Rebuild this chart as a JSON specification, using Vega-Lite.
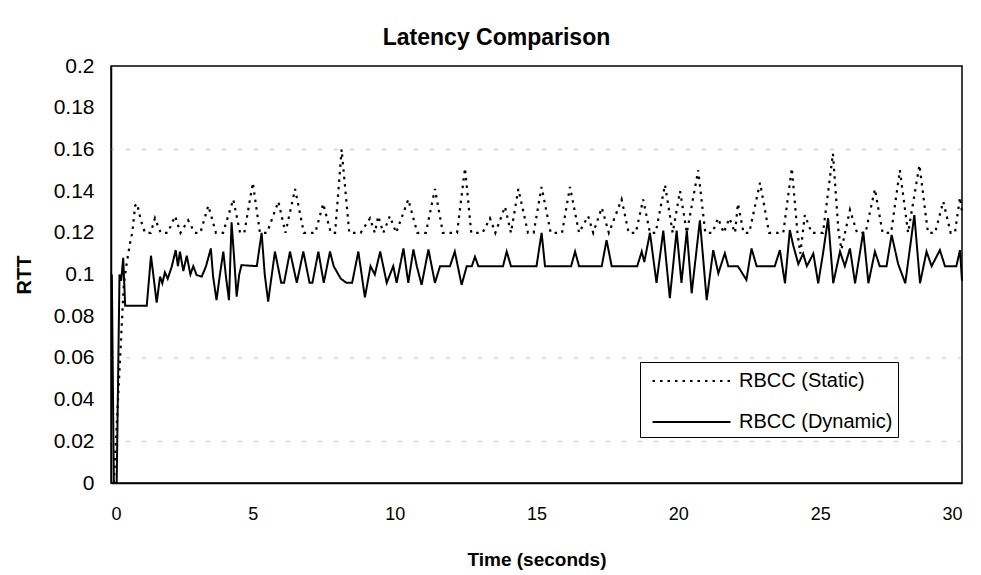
{
  "$schema": "https://vega.github.io/schema/vega-lite/v6.json",
  "width": 851,
  "height": 417,
  "autosize": {"type": "none"},
  "padding": {"left": 111, "top": 66, "right": 19, "bottom": 92},
  "background": "white",
  "title": {"text": "Latency Comparison", "font": "Liberation Sans", "fontSize": 23, "fontWeight": "bold", "color": "#000", "anchor": "middle", "dx": -40, "offset": 5},
  "config": {
    "view": {"stroke": "#000", "strokeWidth": 1.5},
    "axis": {"labelFont": "Liberation Sans", "labelColor": "#000", "titleFont": "Liberation Sans", "titleColor": "#000", "domainColor": "#000", "domainWidth": 1.5, "grid": false, "ticks": false}
  },
  "datasets": {
    "grid": [{"g": 0.16}, {"g": 0.06}, {"g": 0.02}],
    "static": [
      {"t": 0.1, "v": 0}, {"t": 0.45, "v": 0.095}, {"t": 0.55, "v": 0.105}, {"t": 0.67, "v": 0.115}, {"t": 0.75, "v": 0.12}, {"t": 0.85, "v": 0.133}, {"t": 0.92, "v": 0.134}, {"t": 1.05, "v": 0.126}, {"t": 1.2, "v": 0.12},
      {"t": 1.4, "v": 0.12}, {"t": 1.55, "v": 0.127}, {"t": 1.75, "v": 0.12}, {"t": 2.0, "v": 0.12}, {"t": 2.26, "v": 0.128}, {"t": 2.45, "v": 0.12}, {"t": 2.72, "v": 0.126}, {"t": 2.95, "v": 0.12},
      {"t": 3.15, "v": 0.12}, {"t": 3.43, "v": 0.133}, {"t": 3.7, "v": 0.12}, {"t": 3.95, "v": 0.12}, {"t": 4.31, "v": 0.136}, {"t": 4.55, "v": 0.12}, {"t": 4.7, "v": 0.12}, {"t": 5.0, "v": 0.144},
      {"t": 5.25, "v": 0.12}, {"t": 5.5, "v": 0.12}, {"t": 5.9, "v": 0.135}, {"t": 6.15, "v": 0.12}, {"t": 6.49, "v": 0.141}, {"t": 6.8, "v": 0.12}, {"t": 7.2, "v": 0.12}, {"t": 7.48, "v": 0.134},
      {"t": 7.75, "v": 0.12}, {"t": 7.9, "v": 0.12}, {"t": 8.13, "v": 0.16}, {"t": 8.4, "v": 0.12}, {"t": 8.8, "v": 0.12}, {"t": 9.13, "v": 0.127}, {"t": 9.3, "v": 0.12}, {"t": 9.42, "v": 0.128},
      {"t": 9.6, "v": 0.12}, {"t": 9.83, "v": 0.128}, {"t": 10.05, "v": 0.12}, {"t": 10.48, "v": 0.136}, {"t": 10.8, "v": 0.12}, {"t": 11.1, "v": 0.12}, {"t": 11.42, "v": 0.141}, {"t": 11.7, "v": 0.12},
      {"t": 12.2, "v": 0.12}, {"t": 12.48, "v": 0.151}, {"t": 12.7, "v": 0.12}, {"t": 13.1, "v": 0.12}, {"t": 13.36, "v": 0.127}, {"t": 13.55, "v": 0.12}, {"t": 13.89, "v": 0.1325}, {"t": 14.1, "v": 0.12},
      {"t": 14.36, "v": 0.141}, {"t": 14.7, "v": 0.12}, {"t": 14.9, "v": 0.12}, {"t": 15.18, "v": 0.142}, {"t": 15.5, "v": 0.12}, {"t": 15.9, "v": 0.12}, {"t": 16.18, "v": 0.142}, {"t": 16.5, "v": 0.12},
      {"t": 16.82, "v": 0.128}, {"t": 17.0, "v": 0.12}, {"t": 17.3, "v": 0.132}, {"t": 17.55, "v": 0.12}, {"t": 18.0, "v": 0.136}, {"t": 18.25, "v": 0.12}, {"t": 18.5, "v": 0.12}, {"t": 18.76, "v": 0.136},
      {"t": 19.0, "v": 0.12}, {"t": 19.2, "v": 0.12}, {"t": 19.53, "v": 0.143}, {"t": 19.8, "v": 0.12}, {"t": 20.06, "v": 0.14}, {"t": 20.3, "v": 0.12}, {"t": 20.7, "v": 0.15}, {"t": 20.95, "v": 0.12},
      {"t": 21.2, "v": 0.12}, {"t": 21.4, "v": 0.127}, {"t": 21.6, "v": 0.12}, {"t": 21.8, "v": 0.127}, {"t": 22.0, "v": 0.12}, {"t": 22.1, "v": 0.134}, {"t": 22.3, "v": 0.12}, {"t": 22.5, "v": 0.12},
      {"t": 22.88, "v": 0.144}, {"t": 23.2, "v": 0.12}, {"t": 23.7, "v": 0.12}, {"t": 24.0, "v": 0.151}, {"t": 24.2, "v": 0.12}, {"t": 24.3, "v": 0.11}, {"t": 24.46, "v": 0.1285}, {"t": 24.7, "v": 0.12},
      {"t": 25.1, "v": 0.12}, {"t": 25.45, "v": 0.158}, {"t": 25.65, "v": 0.12}, {"t": 25.75, "v": 0.112}, {"t": 26.05, "v": 0.131}, {"t": 26.3, "v": 0.12}, {"t": 26.6, "v": 0.12}, {"t": 26.93, "v": 0.141},
      {"t": 27.2, "v": 0.12}, {"t": 27.5, "v": 0.12}, {"t": 27.81, "v": 0.15}, {"t": 28.1, "v": 0.12}, {"t": 28.5, "v": 0.1525}, {"t": 28.8, "v": 0.12}, {"t": 29.05, "v": 0.12}, {"t": 29.34, "v": 0.135},
      {"t": 29.6, "v": 0.12}, {"t": 29.75, "v": 0.12}, {"t": 29.93, "v": 0.137}, {"t": 30.0, "v": 0.13}
    ],
    "dynamic": [
      {"t": 0.03, "v": 0.1}, {"t": 0.1, "v": 0}, {"t": 0.2, "v": 0}, {"t": 0.3, "v": 0.1}, {"t": 0.36, "v": 0.097}, {"t": 0.43, "v": 0.108}, {"t": 0.5, "v": 0.085}, {"t": 1.26, "v": 0.085},
      {"t": 1.41, "v": 0.109}, {"t": 1.61, "v": 0.0865}, {"t": 1.73, "v": 0.099}, {"t": 1.81, "v": 0.0958}, {"t": 1.9, "v": 0.101}, {"t": 2.0, "v": 0.098}, {"t": 2.14, "v": 0.1037}, {"t": 2.28, "v": 0.1117},
      {"t": 2.36, "v": 0.104}, {"t": 2.43, "v": 0.111}, {"t": 2.55, "v": 0.1017}, {"t": 2.67, "v": 0.109}, {"t": 2.8, "v": 0.1}, {"t": 2.9, "v": 0.104}, {"t": 3.02, "v": 0.0997}, {"t": 3.2, "v": 0.099},
      {"t": 3.35, "v": 0.104}, {"t": 3.52, "v": 0.1125}, {"t": 3.6, "v": 0.0989}, {"t": 3.72, "v": 0.0877}, {"t": 3.84, "v": 0.1}, {"t": 3.96, "v": 0.111}, {"t": 4.06, "v": 0.098}, {"t": 4.16, "v": 0.0877},
      {"t": 4.25, "v": 0.125}, {"t": 4.33, "v": 0.11}, {"t": 4.43, "v": 0.0894}, {"t": 4.52, "v": 0.1}, {"t": 4.6, "v": 0.1045}, {"t": 5.14, "v": 0.104}, {"t": 5.31, "v": 0.12}, {"t": 5.42, "v": 0.1},
      {"t": 5.54, "v": 0.087}, {"t": 5.78, "v": 0.111}, {"t": 6.0, "v": 0.096}, {"t": 6.1, "v": 0.096}, {"t": 6.31, "v": 0.111}, {"t": 6.55, "v": 0.096}, {"t": 6.78, "v": 0.111}, {"t": 7.0, "v": 0.096},
      {"t": 7.1, "v": 0.096}, {"t": 7.31, "v": 0.111}, {"t": 7.5, "v": 0.096}, {"t": 7.72, "v": 0.111}, {"t": 7.85, "v": 0.104}, {"t": 8.1, "v": 0.098}, {"t": 8.3, "v": 0.096}, {"t": 8.5, "v": 0.096},
      {"t": 8.72, "v": 0.111}, {"t": 8.95, "v": 0.089}, {"t": 9.15, "v": 0.104}, {"t": 9.3, "v": 0.1}, {"t": 9.49, "v": 0.111}, {"t": 9.72, "v": 0.096}, {"t": 9.95, "v": 0.104}, {"t": 10.07, "v": 0.096},
      {"t": 10.31, "v": 0.1125}, {"t": 10.48, "v": 0.096}, {"t": 10.66, "v": 0.112}, {"t": 10.78, "v": 0.104}, {"t": 10.95, "v": 0.095}, {"t": 11.19, "v": 0.112}, {"t": 11.42, "v": 0.096}, {"t": 11.6, "v": 0.104},
      {"t": 11.95, "v": 0.104}, {"t": 12.12, "v": 0.111}, {"t": 12.36, "v": 0.095}, {"t": 12.54, "v": 0.104}, {"t": 12.72, "v": 0.104}, {"t": 12.83, "v": 0.1085}, {"t": 12.95, "v": 0.104}, {"t": 13.82, "v": 0.104},
      {"t": 13.95, "v": 0.111}, {"t": 14.1, "v": 0.104}, {"t": 15.0, "v": 0.104}, {"t": 15.18, "v": 0.12}, {"t": 15.3, "v": 0.104}, {"t": 16.22, "v": 0.104}, {"t": 16.36, "v": 0.111}, {"t": 16.5, "v": 0.104},
      {"t": 17.3, "v": 0.104}, {"t": 17.47, "v": 0.1165}, {"t": 17.65, "v": 0.104}, {"t": 18.55, "v": 0.104}, {"t": 18.71, "v": 0.111}, {"t": 18.8, "v": 0.106}, {"t": 19.0, "v": 0.12}, {"t": 19.23, "v": 0.096},
      {"t": 19.47, "v": 0.121}, {"t": 19.7, "v": 0.0886}, {"t": 19.94, "v": 0.121}, {"t": 20.11, "v": 0.096}, {"t": 20.3, "v": 0.121}, {"t": 20.47, "v": 0.091}, {"t": 20.76, "v": 0.126}, {"t": 21.0, "v": 0.0877},
      {"t": 21.23, "v": 0.1117}, {"t": 21.41, "v": 0.1006}, {"t": 21.64, "v": 0.1102}, {"t": 21.76, "v": 0.104}, {"t": 22.1, "v": 0.104}, {"t": 22.4, "v": 0.0974}, {"t": 22.58, "v": 0.1125}, {"t": 22.76, "v": 0.104},
      {"t": 23.4, "v": 0.104}, {"t": 23.58, "v": 0.1117}, {"t": 23.76, "v": 0.0958}, {"t": 23.93, "v": 0.1213}, {"t": 24.05, "v": 0.114}, {"t": 24.23, "v": 0.105}, {"t": 24.4, "v": 0.11}, {"t": 24.53, "v": 0.104},
      {"t": 24.76, "v": 0.11}, {"t": 24.93, "v": 0.0958}, {"t": 25.1, "v": 0.11}, {"t": 25.28, "v": 0.127}, {"t": 25.46, "v": 0.0958}, {"t": 25.7, "v": 0.111}, {"t": 25.87, "v": 0.104}, {"t": 26.05, "v": 0.1125},
      {"t": 26.23, "v": 0.0958}, {"t": 26.52, "v": 0.1205}, {"t": 26.7, "v": 0.0958}, {"t": 26.93, "v": 0.111}, {"t": 27.1, "v": 0.104}, {"t": 27.34, "v": 0.104}, {"t": 27.52, "v": 0.119}, {"t": 27.75, "v": 0.105},
      {"t": 28.0, "v": 0.0958}, {"t": 28.32, "v": 0.1285}, {"t": 28.52, "v": 0.0958}, {"t": 28.75, "v": 0.111}, {"t": 28.93, "v": 0.104}, {"t": 29.22, "v": 0.1117}, {"t": 29.4, "v": 0.104}, {"t": 29.8, "v": 0.104},
      {"t": 29.93, "v": 0.1117}, {"t": 30.0, "v": 0.097}
    ]
  },
  "layer": [
    {
      "data": {"name": "grid"},
      "mark": {"type": "rule", "color": "#888", "strokeDash": [4, 12], "strokeWidth": 1, "opacity": 0.5},
      "encoding": {
        "y": {"field": "g", "type": "quantitative", "scale": {"domain": [0, 0.2]}}
      }
    },
    {
      "data": {"name": "static"},
      "mark": {"type": "line", "color": "#000", "strokeWidth": 2.2},
      "encoding": {
        "x": {"field": "t", "type": "quantitative", "scale": {"domain": [0, 30], "nice": false}, "axis": {"title": "Time (seconds)", "values": [0, 5, 10, 15, 20, 25, 30], "labelFontSize": 18, "labelPadding": 22, "titleFontSize": 19, "titleFontWeight": "bold", "titlePadding": 27}},
        "y": {"field": "v", "type": "quantitative", "scale": {"domain": [0, 0.2], "nice": false}, "axis": {"title": "RTT", "values": [0, 0.02, 0.04, 0.06, 0.08, 0.1, 0.12, 0.14, 0.16, 0.18, 0.2], "format": ".2~f", "labelFontSize": 21, "labelPadding": 17, "titleFontSize": 20, "titleFontWeight": "bold", "titlePadding": 19}},
        "strokeDash": {
          "datum": "RBCC (Static)",
          "scale": {"domain": ["RBCC (Static)", "RBCC (Dynamic)"], "range": [[2.5, 5], [1, 0]]},
          "legend": {"title": null, "orient": "none", "legendX": 529, "legendY": 296, "strokeColor": "#000", "fillColor": "#fff", "padding": 5, "symbolType": "M-0.5,0H5.5", "symbolSize": 676, "symbolStrokeWidth": 2, "symbolStrokeColor": "#000", "labelFont": "Liberation Sans", "labelFontSize": 20, "labelColor": "#000", "labelOffset": 66, "rowPadding": 17}
        }
      }
    },
    {
      "data": {"name": "dynamic"},
      "mark": {"type": "line", "color": "#000", "strokeWidth": 2},
      "encoding": {
        "x": {"field": "t", "type": "quantitative"},
        "y": {"field": "v", "type": "quantitative"},
        "strokeDash": {"datum": "RBCC (Dynamic)"}
      }
    }
  ]
}
